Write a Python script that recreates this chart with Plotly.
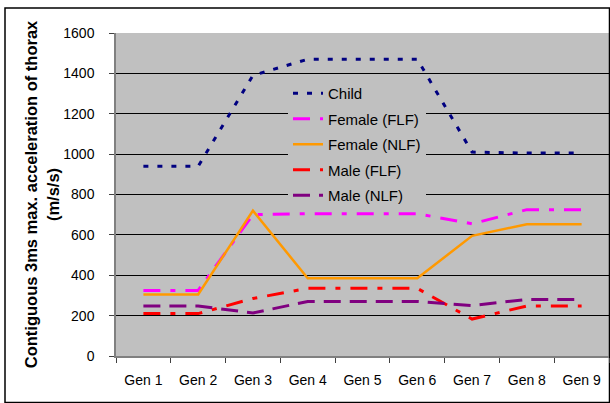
import plotly.graph_objects as go

categories = ["Gen 1", "Gen 2", "Gen 3", "Gen 4", "Gen 5", "Gen 6", "Gen 7", "Gen 8", "Gen 9"]
child = [940, 940, 1390, 1470, 1470, 1470, 1010, 1005, 1005]
female_flf = [325, 325, 700, 705, 705, 705, 655, 725, 725]
female_nlf = [305, 305, 720, 385, 385, 385, 595, 653, 653]
male_flf = [210, 210, 285, 335, 335, 335, 183, 248, 248]
male_nlf = [248, 248, 213, 270, 270, 270, 250, 280, 280]

series = [
    ("Child", child, "#000080", "5px,9px", 3),
    ("Female (FLF)", female_flf, "#FF00FF", "17px,10px,5px,10px", 3),
    ("Female (NLF)", female_nlf, "#FF9900", "solid", 2.5),
    ("Male (FLF)", male_flf, "#FF0000", "17px,10px,5px,10px", 3),
    ("Male (NLF)", male_nlf, "#800080", "17px,9px", 3),
]

fig = go.Figure()
for i, (name, vals, col, dash, w) in enumerate(series):
    fig.add_trace(go.Scatter(x=categories, y=vals, name=name, mode="lines",
                             line=dict(color=col, dash=dash, width=w),
                             legendgroup=f"g{i}"))

W, H = 610, 403
ml, mr, mt, mb = 116, 1, 33, 47
pw, ph = W - ml - mr, H - mt - mb

fig.update_layout(
    width=W, height=H,
    margin=dict(l=ml, r=mr, t=mt, b=mb),
    paper_bgcolor="white", plot_bgcolor="#C0C0C0",
    font=dict(family="Arial, Liberation Sans", size=14, color="black"),
    showlegend=True,
    legend=dict(x=(288 - ml) / pw, y=1 - (77 - mt) / ph, xanchor="left", yanchor="top",
                bgcolor="#C0C0C0", font=dict(size=15), tracegroupgap=3,
                traceorder="grouped"),
    xaxis=dict(type="category", range=[-0.5, len(categories) - 0.5],
               tickson="boundaries", ticks="outside", ticklen=5,
               tickcolor="#404040", showline=True, linecolor="#808080", linewidth=1.5,
               showgrid=False, tickfont=dict(size=14), ticklabelstandoff=10),
    yaxis=dict(range=[0, 1600], dtick=200, ticks="outside", ticklen=5, tickcolor="#404040",
               showline=True, linecolor="#808080", linewidth=1.5,
               showgrid=True, gridcolor="black", gridwidth=1, zeroline=False,
               tickfont=dict(size=14), ticklabelstandoff=12,
               title=dict(text="<b>Contiguous 3ms max. acceleration of thorax<br>(m/s/s)</b>",
                          font=dict(size=16.5), standoff=0)),
    shapes=[dict(type="rect", xref="paper", yref="paper",
                 x0=(5 - ml) / pw, x1=(609.5 - ml) / pw,
                 y0=1 - (402.5 - mt) / ph, y1=1 - (8 - mt) / ph,
                 line=dict(color="black", width=1.5), layer="below")],
)
fig.write_html("out.html", config={"displayModeBar": False},
               post_script="document.body.style.margin='0';")
